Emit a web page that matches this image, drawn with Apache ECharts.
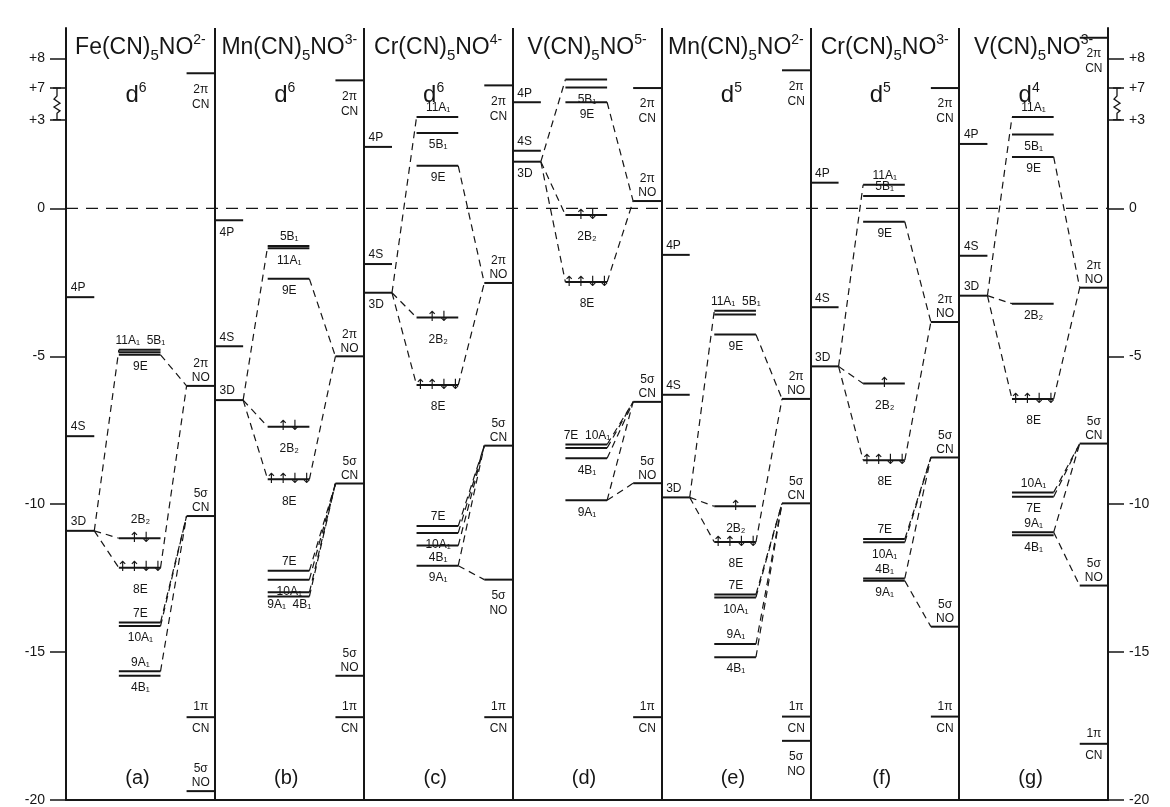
<!DOCTYPE html>
<html>
<head>
<meta charset="utf-8">
<script src="https://cdn.jsdelivr.net/npm/echarts@6/dist/echarts.min.js"></script>
<style>
  html, body { margin: 0; background: #fff; }
  #chart { width: 1170px; height: 807px; }
</style>
</head>
<body>
<div id="chart"></div>
<script>
// MO energy level diagrams, values in eV.
// level row: [column, key, energy, label, label side, electrons]
// column: L = metal AO, M = complex MO, R = ligand orbital
const titles = [
    ["Fe(CN)", "5", "NO", "2-"],
    ["Mn(CN)", "5", "NO", "3-"],
    ["Cr(CN)", "5", "NO", "4-"],
    ["V(CN)", "5", "NO", "5-"],
    ["Mn(CN)", "5", "NO", "2-"],
    ["Cr(CN)", "5", "NO", "3-"],
    ["V(CN)", "5", "NO", "3-"],
];
const dCounts = ["6", "6", "6", "", "5", "5", "4"];
const tags = ["(a)", "(b)", "(c)", "(d)", "(e)", "(f)", "(g)"];

const levelsA = [
    ["L", "4P", -3.0, "4P", "up"],
    ["L", "4S", -7.7, "4S", "up"],
    ["L", "3D", -10.9, "3D", "up"],
    ["M", "11A1", -4.78, "11A₁  5B₁", "up"],
    ["M", "5B1", -4.86, "", ""],
    ["M", "9E", -4.95, "9E", "dn"],
    ["M", "2B2", -11.15, "2B₂", "up", "↑↓"],
    ["M", "8E", -12.15, "8E", "dn", "↑↑↓↓"],
    ["M", "7E", -14.0, "7E", "up"],
    ["M", "10A1", -14.12, "10A₁", "dn"],
    ["M", "9A1", -15.65, "9A₁", "up"],
    ["M", "4B1", -15.8, "4B₁", "dn"],
    ["R", "2pCN", 7.5, "2π|CN", "dn"],
    ["R", "2pNO", -6.0, "2π|NO", "up"],
    ["R", "5sCN", -10.4, "5σ|CN", "up"],
    ["R", "1pCN", -17.2, "1π|CN", "split"],
    ["R", "5sNO", -19.7, "5σ|NO", "up"],
];
const linksA = [
    ["3D", "11A1"], ["3D", "2B2"], ["3D", "8E"], ["9E", "2pNO"], ["8E", "2pNO"],
    ["7E", "5sCN"], ["10A1", "5sCN"], ["9A1", "5sCN"],
];

const levelsB = [
    ["L", "4P", -0.4, "4P", "dn"],
    ["L", "4S", -4.66, "4S", "up"],
    ["L", "3D", -6.48, "3D", "up"],
    ["M", "5B1", -1.27, "5B₁", "up"],
    ["M", "11A1", -1.35, "11A₁", "dn"],
    ["M", "9E", -2.38, "9E", "dn"],
    ["M", "2B2", -7.38, "2B₂", "dn", "↑↓"],
    ["M", "8E", -9.16, "8E", "dn", "↑↑↓↓"],
    ["M", "7E", -12.25, "7E", "up"],
    ["M", "10A1", -12.55, "10A₁", "dn"],
    ["M", "9A1", -12.98, "9A₁  4B₁", "dn"],
    ["M", "4B1", -13.12, "", ""],
    ["R", "2pCN", 7.26, "2π|CN", "dn"],
    ["R", "2pNO", -5.0, "2π|NO", "up"],
    ["R", "5sCN", -9.3, "5σ|CN", "up"],
    ["R", "5sNO", -15.8, "5σ|NO", "up"],
    ["R", "1pCN", -17.2, "1π|CN", "split"],
];
const linksB = [
    ["3D", "5B1"], ["3D", "2B2"], ["3D", "8E"], ["9E", "2pNO"], ["8E", "2pNO"],
    ["7E", "5sCN"], ["10A1", "5sCN"], ["9A1", "5sCN"], ["4B1", "5sCN"],
];

const levelsC = [
    ["L", "4P", 2.08, "4P", "up"],
    ["L", "4S", -1.88, "4S", "up"],
    ["L", "3D", -2.85, "3D", "dn"],
    ["M", "11A1", 3.09, "11A₁", "up"],
    ["M", "5B1", 2.55, "5B₁", "dn"],
    ["M", "9E", 1.44, "9E", "dn"],
    ["M", "2B2", -3.69, "2B₂", "dn", "↑↓"],
    ["M", "8E", -5.97, "8E", "dn", "↑↑↓↓"],
    ["M", "7E", -10.74, "7E", "up"],
    ["M", "10A1", -10.97, "10A₁", "dn"],
    ["M", "4B1", -11.4, "4B₁", "dn"],
    ["M", "9A1", -12.08, "9A₁", "dn"],
    ["R", "2pCN", 7.09, "2π|CN", "dn"],
    ["R", "2pNO", -2.52, "2π|NO", "up"],
    ["R", "5sCN", -8.02, "5σ|CN", "up"],
    ["R", "5sNO", -12.55, "5σ|NO", "dn"],
    ["R", "1pCN", -17.2, "1π|CN", "split"],
];
const linksC = [
    ["3D", "11A1"], ["3D", "2B2"], ["3D", "8E"], ["9E", "2pNO"], ["8E", "2pNO"],
    ["7E", "5sCN"], ["10A1", "5sCN"], ["4B1", "5sCN"], ["9A1", "5sCN"], ["9A1", "5sNO"],
];

const levelsD = [
    ["L", "4P", 3.59, "4P", "up"],
    ["L", "4S", 1.95, "4S", "up"],
    ["L", "3D", 1.58, "3D", "dn"],
    ["M", "11A1", 4.36, "", ""],
    ["M", "5B1", 4.09, "5B₁", "dn"],
    ["M", "9E", 3.59, "9E", "dn"],
    ["M", "2B2", -0.22, "2B₂", "dn", "↑↓"],
    ["M", "8E", -2.49, "8E", "dn", "↑↑↓↓"],
    ["M", "7E", -7.98, "7E  10A₁", "up"],
    ["M", "10A1", -8.1, "", ""],
    ["M", "4B1", -8.45, "4B₁", "dn"],
    ["M", "9A1", -9.87, "9A₁", "dn"],
    ["R", "2pCN", 7.0, "2π|CN", "dn"],
    ["R", "2pNO", 0.25, "2π|NO", "up"],
    ["R", "5sCN", -6.54, "5σ|CN", "up"],
    ["R", "5sNO", -9.29, "5σ|NO", "up"],
    ["R", "1pCN", -17.2, "1π|CN", "split"],
];
const linksD = [
    ["3D", "11A1"], ["3D", "2B2"], ["3D", "8E"], ["9E", "2pNO"], ["8E", "2pNO"],
    ["7E", "5sCN"], ["10A1", "5sCN"], ["4B1", "5sCN"], ["9A1", "5sCN"], ["9A1", "5sNO"],
];

const levelsE = [
    ["L", "4P", -1.57, "4P", "up"],
    ["L", "4S", -6.3, "4S", "up"],
    ["L", "3D", -9.77, "3D", "up"],
    ["M", "11A1", -3.46, "11A₁  5B₁", "up"],
    ["M", "5B1", -3.59, "", ""],
    ["M", "9E", -4.26, "9E", "dn"],
    ["M", "2B2", -10.07, "2B₂", "dn", "↑"],
    ["M", "8E", -11.28, "8E", "dn", "↑↑↓↓"],
    ["M", "7E", -13.05, "7E", "up"],
    ["M", "10A1", -13.15, "10A₁", "dn"],
    ["M", "9A1", -14.73, "9A₁", "up"],
    ["M", "4B1", -15.17, "4B₁", "dn"],
    ["R", "2pCN", 7.6, "2π|CN", "dn"],
    ["R", "2pNO", -6.44, "2π|NO", "up"],
    ["R", "5sCN", -9.97, "5σ|CN", "up"],
    ["R", "1pCN", -17.18, "1π|CN", "split"],
    ["R", "5sNO", -18.0, "5σ|NO", "dn"],
];
const linksE = [
    ["3D", "11A1"], ["3D", "2B2"], ["3D", "8E"], ["9E", "2pNO"], ["8E", "2pNO"],
    ["7E", "5sCN"], ["10A1", "5sCN"], ["9A1", "5sCN"], ["4B1", "5sCN"],
];

const levelsF = [
    ["L", "4P", 0.87, "4P", "up"],
    ["L", "4S", -3.34, "4S", "up"],
    ["L", "3D", -5.34, "3D", "up"],
    ["M", "11A1", 0.8, "11A₁", "up"],
    ["M", "5B1", 0.42, "5B₁", "up"],
    ["M", "9E", -0.45, "9E", "dn"],
    ["M", "2B2", -5.92, "2B₂", "dn", "↑"],
    ["M", "8E", -8.51, "8E", "dn", "↑↑↓↓"],
    ["M", "7E", -11.18, "7E", "up"],
    ["M", "10A1", -11.29, "10A₁", "dn"],
    ["M", "4B1", -12.51, "4B₁", "up"],
    ["M", "9A1", -12.59, "9A₁", "dn"],
    ["R", "2pCN", 7.0, "2π|CN", "dn"],
    ["R", "2pNO", -3.84, "2π|NO", "up"],
    ["R", "5sCN", -8.42, "5σ|CN", "up"],
    ["R", "5sNO", -14.14, "5σ|NO", "up"],
    ["R", "1pCN", -17.18, "1π|CN", "split"],
];
const linksF = [
    ["3D", "11A1"], ["3D", "2B2"], ["3D", "8E"], ["9E", "2pNO"], ["8E", "2pNO"],
    ["7E", "5sCN"], ["10A1", "5sCN"], ["4B1", "5sCN"], ["9A1", "5sNO"],
];

const levelsG = [
    ["L", "4P", 2.18, "4P", "up"],
    ["L", "4S", -1.6, "4S", "up"],
    ["L", "3D", -2.95, "3D", "up"],
    ["M", "11A1", 3.09, "11A₁", "up"],
    ["M", "5B1", 2.5, "5B₁", "dn"],
    ["M", "9E", 1.74, "9E", "dn"],
    ["M", "2B2", -3.22, "2B₂", "dn"],
    ["M", "8E", -6.44, "8E", "dn", "↑↑↓↓"],
    ["M", "10A1", -9.6, "10A₁", "up"],
    ["M", "7E", -9.75, "7E", "dn"],
    ["M", "9A1", -10.95, "9A₁", "up"],
    ["M", "4B1", -11.05, "4B₁", "dn"],
    ["R", "2pCN", 8.7, "2π|CN", "dn"],
    ["R", "2pNO", -2.68, "2π|NO", "up"],
    ["R", "5sCN", -7.95, "5σ|CN", "up"],
    ["R", "5sNO", -12.75, "5σ|NO", "up"],
    ["R", "1pCN", -18.1, "1π|CN", "split"],
];
const linksG = [
    ["3D", "11A1"], ["3D", "2B2"], ["3D", "8E"], ["9E", "2pNO"], ["8E", "2pNO"],
    ["10A1", "5sCN"], ["7E", "5sCN"], ["9A1", "5sCN"], ["9A1", "5sNO"],
];

// energy axis ticks (eV); the axis is broken between +3 and +7
const tickEnergies = [-20, -15, -10, -5, 0, 3, 7, 8];

const allLevels = [levelsA, levelsB, levelsC, levelsD, levelsE, levelsF, levelsG];
const allLinks = [linksA, linksB, linksC, linksD, linksE, linksF, linksG];

const INK = "#161616";
const FONT = '"Liberation Sans", Arial, sans-serif';
const BREAK_SHIFT = 2.93; // +7 is drawn where 4.07 would be
const to_axis = (e) => (e >= 6 ? e - BREAK_SHIFT : e);
const from_axis = (v) => (v >= 4 ? v + BREAK_SHIFT : v);

// column extents inside a panel (panel width = 1)
const COLS = { L: [0.005, 0.19], M: [0.355, 0.635], R: [0.81, 0.998] };
const LABEL_X = { L: 0.1, M: 0.5, R: 0.905 };
const ORDER = { L: 0, M: 1, R: 2 };

// flatten levels for the custom series
const flat = [];
allLevels.forEach((rows, p) =>
    rows.forEach((r) =>
        flat.push({ p, col: r[0], key: r[1], e: r[2], text: r[3], side: r[4], spins: r[5] || "" })
    )
);

// connections: from facing ends of the two levels
const linkData = [];
allLinks.forEach((rows, p) => {
    rows.forEach(([k1, k2]) => {
        const a = flat.find((l) => l.p === p && l.key === k1);
        const b = flat.find((l) => l.p === p && l.key === k2);
        if (!a || !b) return;
        const lo = ORDER[a.col] < ORDER[b.col] ? a : b;
        const hi = lo === a ? b : a;
        linkData.push([p + COLS[lo.col][1], to_axis(lo.e), p + COLS[hi.col][0], to_axis(hi.e)]);
    });
});

function txt(x, y, text, size, extra) {
    return {
        type: "text",
        x, y,
        style: Object.assign({
            text, fill: INK, font: `${size || 12}px ${FONT}`,
            align: "center", verticalAlign: "middle",
        }, extra || {}),
    };
}

function render_level(params, api) {
    const lv = flat[params.dataIndex];
    const y = api.value(1);
    const a = api.coord([lv.p + COLS[lv.col][0], y]);
    const b = api.coord([lv.p + COLS[lv.col][1], y]);
    const lx = api.coord([lv.p + LABEL_X[lv.col], y])[0];
    const kids = [{
        type: "line",
        shape: { x1: a[0], y1: a[1], x2: b[0], y2: a[1] },
        style: { stroke: INK, lineWidth: 2 },
    }];
    if (lv.text) {
        const parts = lv.text.split("|");
        if (parts.length === 2) {
            const off = { up: [-22, -8], dn: [16, 31], split: [-10, 12] }[lv.side];
            kids.push(txt(lx, a[1] + off[0], parts[0], 12));
            kids.push(txt(lx, a[1] + off[1], parts[1], 12));
        } else {
            const big = lv.spins ? 10 : 0;
            const dy = lv.side === "up" ? -9 - big : 12 + big;
            const x = lv.col === "L" ? a[0] + 4 : lx;
            kids.push(txt(x, a[1] + dy, parts[0], 12, lv.col === "L" ? { align: "left" } : {}));
        }
    }
    if (lv.spins) {
        kids.push(txt(api.coord([lv.p + 0.5, y])[0], a[1], lv.spins, 14, {
            font: `14px "DejaVu Sans", sans-serif`,
        }));
    }
    return { type: "group", children: kids };
}

function render_link(params, api) {
    const a = api.coord([api.value(0), api.value(1)]);
    const b = api.coord([api.value(2), api.value(3)]);
    return {
        type: "line",
        shape: { x1: a[0], y1: a[1], x2: b[0], y2: b[1] },
        style: { stroke: INK, lineWidth: 1.2, lineDash: [7, 5] },
    };
}

function render_panel_text(params, api) {
    const p = params.dataIndex;
    const top = api.coord([p, 6.1])[1];
    const bottom = api.coord([p, -20])[1];
    const cx = api.coord([p + 0.5, 0])[0];
    const t = titles[p];
    const kids = [
        txt(cx, top + 20, `{m|${t[0]}}{s|${t[1]}}{m|${t[2]}}{p|${t[3]}}`, 23, {
            rich: {
                m: { fontSize: 23, fontFamily: FONT, lineHeight: 30, fill: INK },
                s: { fontSize: 15, fontFamily: FONT, lineHeight: 15, verticalAlign: "bottom", fill: INK },
                p: { fontSize: 14, fontFamily: FONT, lineHeight: 14, verticalAlign: "top", fill: INK },
            },
        }),
        txt(api.coord([p + 0.48, 0])[0], bottom - 22, tags[p], 20),
    ];
    if (dCounts[p]) {
        kids.push(txt(api.coord([p + 0.47, 0])[0], top + 67, `{m|d}{p|${dCounts[p]}}`, 23, {
            rich: {
                m: { fontSize: 24, fontFamily: FONT, lineHeight: 28, fill: INK },
                p: { fontSize: 14, fontFamily: FONT, lineHeight: 14, verticalAlign: "top", fill: INK },
            },
        }));
    }
    return { type: "group", children: kids };
}

// zigzag mark for the axis break on both energy axes
function render_break(params, api) {
    const side = api.value(0) === 0 ? -1 : 1;
    const t = api.coord([api.value(0), to_axis(7)]);
    const b = api.coord([api.value(0), to_axis(3)]);
    const x = t[0] + side * 9;
    const h = b[1] - t[1];
    return {
        type: "group",
        children: [
            { type: "line", shape: { x1: x - 4, y1: t[1], x2: x + 4, y2: t[1] }, style: { stroke: INK, lineWidth: 1.3 } },
            { type: "line", shape: { x1: x - 4, y1: b[1], x2: x + 4, y2: b[1] }, style: { stroke: INK, lineWidth: 1.3 } },
            {
                type: "polyline",
                shape: {
                    points: [
                        [x, t[1]], [x, t[1] + h * 0.25], [x - 3, t[1] + h * 0.35], [x + 3, t[1] + h * 0.48],
                        [x - 3, t[1] + h * 0.6], [x + 3, t[1] + h * 0.72], [x, t[1] + h * 0.8], [x, b[1]],
                    ],
                },
                style: { stroke: INK, lineWidth: 1.3, fill: null },
            },
        ],
    };
}

const tickVals = tickEnergies.map(to_axis);
const fmt = (v) => {
    const e = Math.round(from_axis(v));
    return e > 0 ? "+" + e : String(e);
};

function y_axis(pos) {
    return {
        type: "value",
        position: pos,
        min: -20,
        max: 6.1,
        axisLine: { show: true, lineStyle: { color: INK, width: 2 } },
        axisTick: { show: true, length: 16, customValues: tickVals, lineStyle: { color: INK, width: 1.5 } },
        axisLabel: {
            customValues: tickVals, formatter: fmt, color: INK,
            fontSize: 14, fontFamily: FONT, margin: 21,
        },
        splitLine: { show: false },
    };
}

const chart = echarts.init(document.getElementById("chart"), null, { renderer: "canvas" });
chart.setOption({
    animation: false,
    backgroundColor: "#fff",
    grid: { left: 66, right: 62, top: 28, bottom: 1, containLabel: false },
    xAxis: {
        type: "value", min: 0, max: 7, interval: 1,
        axisLine: { show: true, onZero: false, lineStyle: { color: INK, width: 2 } },
        axisTick: { show: false },
        axisLabel: { show: false },
        splitLine: { show: true, lineStyle: { color: INK, width: 2 } },
    },
    yAxis: [y_axis("left"), y_axis("right")],
    series: [
        {
            type: "line", silent: true, symbol: "none",
            data: [[0, 0], [7, 0]],
            lineStyle: { color: INK, width: 1.3, type: [12, 8] },
        },
        {
            type: "custom", silent: true, clip: false,
            renderItem: render_link, data: linkData,
        },
        {
            type: "custom", silent: true, clip: false,
            renderItem: render_level,
            data: flat.map((l) => [l.p + 0.5, to_axis(l.e)]),
        },
        {
            type: "custom", silent: true, clip: false,
            renderItem: render_panel_text,
            data: titles.map((_, p) => [p + 0.5, 0]),
        },
        {
            type: "custom", silent: true, clip: false,
            renderItem: render_break,
            data: [[0, 3.5], [7, 3.5]],
        },
    ],
});
</script>
</body>
</html>
